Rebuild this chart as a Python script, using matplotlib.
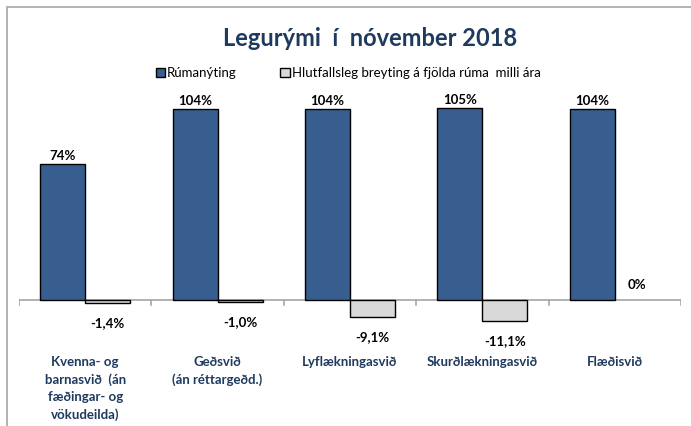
import matplotlib
matplotlib.use('Agg')
import matplotlib.pyplot as plt
from matplotlib.patches import Rectangle
import numpy as np

plt.rcParams['font.family'] = ['Lato', 'DejaVu Sans']

categories = ['Kvenna- og\nbarnasvið  (án\nfæðingar- og\nvökudeilda)',
              'Geðsvið\n(án réttargeðd.)',
              'Lyflækningasvið',
              'Skurðlækningasvið',
              'Flæðisvið']
occupancy = [74, 104, 104, 105, 104]
change = [-1.4, -1.0, -9.1, -11.1, 0.0]
occupancy_labels = ['74%', '104%', '104%', '105%', '104%']
change_labels = ['-1,4%', '-1,0%', '-9,1%', '-11,1%', '0%']

blue = '#375E8F'
grey = '#D9D9D9'
navy = '#1F3A5F'

fig = plt.figure(figsize=(6.91, 4.26), dpi=100)
ax = fig.add_axes([0.0275, 0.209, 0.958, 0.603])

x = np.arange(len(categories))
w = 0.34
b1 = ax.bar(x - w / 2, occupancy, w, color=blue, edgecolor='black', linewidth=1.0,
            label='Rúmanýting', zorder=3)
b2 = ax.bar(x + w / 2, change, w, color=grey, edgecolor='black', linewidth=1.0,
            label='Hlutfallsleg breyting á fjölda rúma  milli ára', zorder=3)

for bar, lab in zip(b1, occupancy_labels):
    ax.annotate(lab, (bar.get_x() + bar.get_width() / 2, bar.get_height()),
                xytext=(0, 2), textcoords='offset pixels', ha='center', va='bottom',
                fontsize=9.5, fontweight='bold', color='black')

for bar, val, lab in zip(b2, change, change_labels):
    cx = bar.get_x() + bar.get_width() / 2
    if val < 0:
        ax.annotate(lab, (cx, val), xytext=(0, -14), textcoords='offset pixels',
                    ha='center', va='top', fontsize=9.5, fontweight='bold', color='black')
    else:
        # empty bar: no outline, label sits above the axis
        bar.set_linewidth(0)
        ax.annotate(lab, (cx, val), xytext=(0, 9), textcoords='offset pixels',
                    ha='center', va='bottom', fontsize=9.5, fontweight='bold', color='black')

ax.set_xlim(-0.5, len(categories) - 0.5)
ax.set_ylim(-20, 120)
ax.axhline(0, color='#A6A6A6', linewidth=1.2, zorder=2)
for xb in np.arange(-0.5, len(categories), 1.0):
    ax.plot([xb, xb], [0, -2.5], color='#A6A6A6', linewidth=1.2, zorder=2)

for s in ax.spines.values():
    s.set_visible(False)
ax.set_yticks([])
ax.set_xticks([])

for xi, cat in zip(x, categories):
    ax.text(xi, -30.5, cat, ha='center', va='top', fontsize=9.5, fontweight='bold',
            color=navy, linespacing=1.5)

fig.text(0.535, 0.91, 'Legurými  í  nóvember 2018', ha='center', va='center',
         fontsize=17, fontweight='bold', color=navy)

fig.legend(handles=[b1, b2], loc='center', bbox_to_anchor=(0.504, 0.828), ncol=2,
           frameon=False, fontsize=9.5, handlelength=0.7, handleheight=0.7,
           handletextpad=0.15, columnspacing=3.3, borderaxespad=0)

fig.patches.append(Rectangle((7 / 691, -0.1), 1.2, 1 - 7 / 426 + 0.1,
                             transform=fig.transFigure, fill=False,
                             edgecolor='#A6A6A6', linewidth=1.2))

fig.savefig('out.png', dpi=100)
